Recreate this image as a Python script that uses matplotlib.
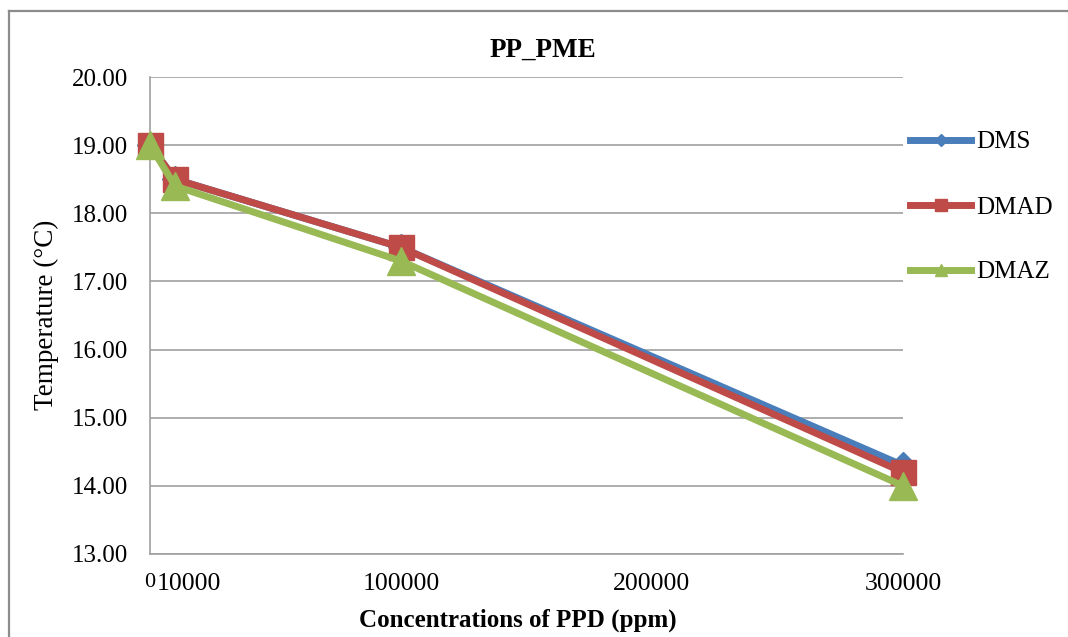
import matplotlib
matplotlib.use("Agg")
import matplotlib.pyplot as plt
from matplotlib.lines import Line2D

plt.rcParams["font.family"] = ["Liberation Serif", "DejaVu Serif"]

# Data
concentrations = [0, 10000, 100000, 300000]
dms = [19.0, 18.5, 17.5, 14.3]
dmad = [19.0, 18.5, 17.5, 14.2]
dmaz = [19.0, 18.4, 17.3, 14.0]
series_names = ["DMS", "DMAD", "DMAZ"]

x_ticks = [0, 100000, 200000, 300000]
x_tick_labels = ["0", "100000", "200000", "300000"]
y_ticks = [13, 14, 15, 16, 17, 18, 19, 20]

W, H = 1068, 637
fig = plt.figure(figsize=(W / 100, H / 100), dpi=100)
fig.patch.set_facecolor("white")

ax = fig.add_axes([150 / W, 1 - 554 / H, (903 - 150) / W, (554 - 77) / H])

blue = "#4A7EBB"
red = "#BE4B48"
green = "#98B954"
lw = 5

ax.plot(concentrations, dms, color=blue, lw=lw, marker="D", ms=13,
        mec=blue, mfc=blue, zorder=3, solid_joinstyle="round", clip_on=False)
ax.plot(concentrations, dmad, color=red, lw=lw, marker="s", ms=18,
        mec=red, mfc=red, zorder=4, solid_joinstyle="round", clip_on=False)
ax.plot(concentrations, dmaz, color=green, lw=lw, marker="^", ms=20,
        mec=green, mfc=green, zorder=5, solid_joinstyle="round", clip_on=False)

ax.set_xlim(0, 300000)
ax.set_ylim(13, 20)
ax.set_yticks(y_ticks)
ax.set_yticklabels([f"{v:.2f}" for v in y_ticks])
ax.set_xticks(x_ticks)
ax.set_xticklabels(x_tick_labels)

grid_color = "#A0A0A0"
ax.grid(axis="y", color=grid_color, lw=1.2)
ax.set_axisbelow(True)
for side in ["right", "top"]:
    ax.spines[side].set_visible(False)
for side in ["left", "bottom"]:
    ax.spines[side].set_color(grid_color)
    ax.spines[side].set_linewidth(1.2)
ax.tick_params(axis="y", length=0, labelsize=18, colors="black", pad=16)
ax.tick_params(axis="x", length=0, labelsize=18.5, colors="black", pad=14)
ax.get_xticklabels()[0].set_fontsize(16)

# second label next to the zero tick
ax.annotate("10000", xy=(0, 0), xycoords=ax.get_xaxis_transform(),
            xytext=(5, -14), textcoords="offset points",
            ha="left", va="top", fontsize=18.5)

fig.text(543 / W, 1 - 50 / H, "PP_PME", ha="center", va="center",
         fontsize=19.5, fontweight="bold")
fig.text(518 / W, 1 - 620 / H, "Concentrations of PPD (ppm)", ha="center",
         va="center", fontsize=18, fontweight="bold")
fig.text(46 / W, 1 - 315 / H, "Temperature (°C)", ha="center", va="center",
         rotation=90, fontsize=19.5)

handles = [
    Line2D([], [], color=blue, lw=lw, marker="D", ms=6, mec=blue, mfc=blue),
    Line2D([], [], color=red, lw=lw, marker="s", ms=8, mec=red, mfc=red),
    Line2D([], [], color=green, lw=lw, marker="^", ms=8, mec=green, mfc=green),
]
fig.legend(handles, series_names, loc="upper left",
           bbox_to_anchor=(910 / W, 1 - 131 / H), frameon=False,
           fontsize=18, borderpad=0, borderaxespad=0, handlelength=2.45,
           handletextpad=0.2, labelspacing=1.7)

# chart border
border_color = "#8C8C8C"
fig.add_artist(Line2D([9 / W, 9 / W], [0, 1 - 11 / H], transform=fig.transFigure,
                      color=border_color, lw=1.6))
fig.add_artist(Line2D([9 / W, 1], [1 - 11 / H, 1 - 11 / H], transform=fig.transFigure,
                      color=border_color, lw=1.6))

fig.savefig("out.png", dpi=100)
